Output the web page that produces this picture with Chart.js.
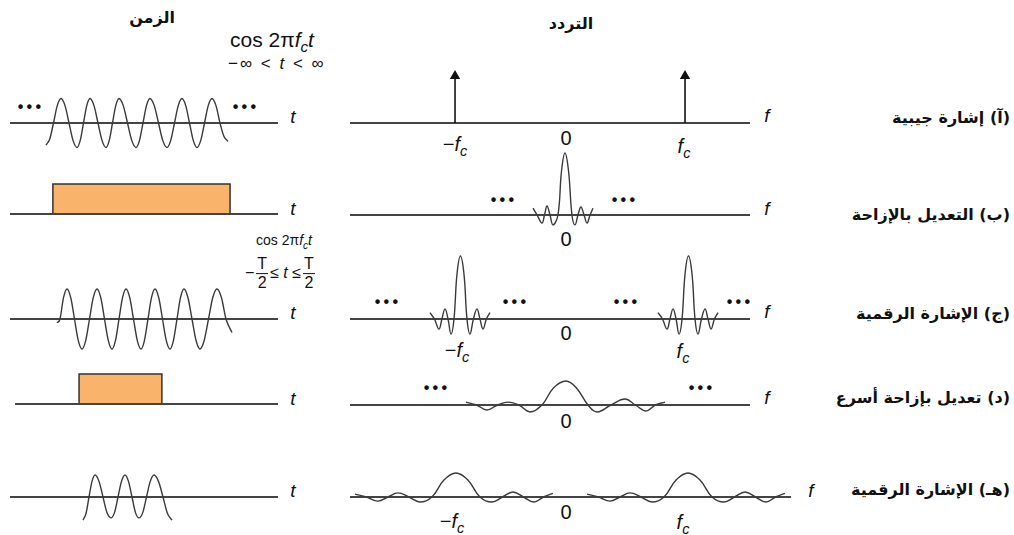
<!DOCTYPE html>
<html><head><meta charset="utf-8">
<script src="https://cdn.jsdelivr.net/npm/chart.js@4.4.1/dist/chart.umd.min.js"></script>
<style>
html,body{margin:0;padding:0;background:#fff;}
#wrap{position:relative;width:1014px;height:535px;overflow:hidden;font-family:"Liberation Sans",Arial,sans-serif;color:#111;}
#wrap canvas{position:absolute;}
.l{position:absolute;white-space:nowrap;line-height:1;}
.c{transform:translate(-50%,-50%);}
.ar{font-family:"DejaVu Sans",sans-serif;font-weight:bold;direction:rtl;font-size:16px;transform:translateY(-50%);right:4px;}
.ax{font-style:italic;font-size:19px;}
.num{font-size:20px;}
sub{font-size:72%;vertical-align:-0.35em;font-style:italic;}
.dots{font-size:16px;letter-spacing:3.2px;font-weight:bold;}
.frac{display:inline-block;vertical-align:middle;text-align:center;margin:0 2px;}
.frac span{display:block;line-height:1.15;}
.frac .top{border-bottom:1px solid #111;padding:0 1px;}
</style></head>
<body><div id="wrap">
<div class="l c ar" style="left:152px;top:18px;right:auto;transform:translate(-50%,-50%);font-size:16px">الزمن</div>
<div class="l c ar" style="left:571px;top:24px;right:auto;transform:translate(-50%,-50%);font-size:16px">التردد</div>

<div class="l" style="left:230px;top:29px;font-size:21px">cos 2π<i>f</i><sub>c</sub><i>t</i></div>
<div class="l" style="left:228px;top:55px;font-size:17px;letter-spacing:2px">−∞ &lt; <i>t</i> &lt; ∞</div>
<div class="l" style="left:256px;top:233px;font-size:14px">cos 2π<i>f</i><sub>c</sub><i>t</i></div>
<div class="l" style="left:245px;top:274px;font-size:16px;transform:translateY(-50%)">−<span class="frac"><span class="top">T</span><span>2</span></span>≤ <i>t</i> ≤<span class="frac"><span class="top">T</span><span>2</span></span></div>

<div class="l c dots" style="left:31px;top:107px">•••</div>
<div class="l c dots" style="left:246px;top:107px">•••</div>
<div class="l c dots" style="left:504px;top:200px">•••</div>
<div class="l c dots" style="left:625px;top:200px">•••</div>
<div class="l c dots" style="left:388px;top:302px">•••</div>
<div class="l c dots" style="left:516px;top:302px">•••</div>
<div class="l c dots" style="left:627px;top:302px">•••</div>
<div class="l c dots" style="left:740px;top:302px">•••</div>
<div class="l c dots" style="left:437px;top:388px">•••</div>
<div class="l c dots" style="left:702px;top:388px">•••</div>

<div class="l c ax" style="left:293px;top:116px">t</div>
<div class="l c ax" style="left:293px;top:208px">t</div>
<div class="l c ax" style="left:293px;top:312px">t</div>
<div class="l c ax" style="left:293px;top:398px">t</div>
<div class="l c ax" style="left:293px;top:490px">t</div>
<div class="l c ax" style="left:767px;top:115px">f</div>
<div class="l c ax" style="left:767px;top:208px">f</div>
<div class="l c ax" style="left:767px;top:311px">f</div>
<div class="l c ax" style="left:767px;top:397px">f</div>
<div class="l c ax" style="left:811px;top:490px">f</div>

<div class="l c num" style="left:455px;top:146px">−<i>f</i><sub>c</sub></div>
<div class="l c num" style="left:566px;top:138px">0</div>
<div class="l c num" style="left:684px;top:148px"><i>f</i><sub>c</sub></div>
<div class="l c num" style="left:566px;top:239px">0</div>
<div class="l c num" style="left:457px;top:352px">−<i>f</i><sub>c</sub></div>
<div class="l c num" style="left:566px;top:333px">0</div>
<div class="l c num" style="left:683px;top:353px"><i>f</i><sub>c</sub></div>
<div class="l c num" style="left:566px;top:421px">0</div>
<div class="l c num" style="left:452px;top:523px">−<i>f</i><sub>c</sub></div>
<div class="l c num" style="left:566px;top:512px">0</div>
<div class="l c num" style="left:683px;top:524px"><i>f</i><sub>c</sub></div>

<div class="l ar" style="top:118px">(آ) إشارة جيبية</div>
<div class="l ar" style="top:215px">(ب) التعديل بالإزاحة</div>
<div class="l ar" style="top:314px">(ج) الإشارة الرقمية</div>
<div class="l ar" style="top:398px">(د) تعديل بإزاحة أسرع</div>
<div class="l ar" style="top:490px">(هـ) الإشارة الرقمية</div>
</div>
<script>
// ---------- data (t in carrier periods, f in units of ~fc, amplitudes normalised) ----------
const timeAxis = [-4.5, 4.5];
const timeAxisD = [-4.33, 4.5];
const freqAxis = [-1.878, 1.6];
const freqAxisE = [-1.878, 1.957];

// (a) endless cosine (points read at crests, troughs, crossings and half-way)
const sineA_t = [-3.291,-3.165,-3.039,-2.913,-2.787,-2.652,-2.518,-2.384,-2.250,-2.141,-2.032,-1.922,-1.813,-1.679,-1.545,-1.410,-1.276,-1.167,-1.058,-0.948,-0.839,-0.696,-0.554,-0.411,-0.269,-0.151,-0.034,0.083,0.201,0.344,0.487,0.629,0.772,0.898,1.024,1.150,1.276,1.402,1.528,1.654,1.780,1.906,2.032,2.157,2.283,2.417,2.552,2.686,2.821];
const sineA_y = [-0.9,-0.65,0,0.71,1,0.71,0,-0.71,-1,-0.71,0,0.71,1,0.71,0,-0.71,-1,-0.71,0,0.71,1,0.71,0,-0.71,-1,-0.71,0,0.71,1,0.71,0,-0.71,-1,-0.71,0,0.71,1,0.71,0,-0.71,-1,-0.71,0,0.71,1,0.71,0,-0.55,-0.75];
const impulse_f = [-0.965, 1.035];
const impulse_h = [0, 1];

// (b) long rectangular pulse and its narrow sinc
const pulseB_t = [-3.06,-3.06,2.89,2.89];
const pulseB_y = [0,1,1,0];
const sincB_f = [-0.287,-0.252,-0.209,-0.187,-0.165,-0.139,-0.113,-0.070,-0.039,-0.009,0.022,0.052,0.078,0.104,0.130,0.157,0.183,0.209,0.235];
const sincB_y = [0.11,0,-0.13,0,0.145,0,-0.16,0,0.71,1,0.71,0,-0.16,0,0.13,0,-0.13,0,0.11];

// (c) long cosine burst and sincs at ±fc
const burstC_t = [-2.921,-2.821,-2.703,-2.586,-2.460,-2.334,-2.208,-2.082,-1.956,-1.830,-1.704,-1.578,-1.452,-1.326,-1.200,-1.075,-0.957,-0.839,-0.721,-0.604,-0.478,-0.353,-0.227,-0.101,0.016,0.134,0.251,0.369,0.495,0.621,0.747,0.873,0.990,1.108,1.225,1.343,1.477,1.612,1.746,1.880,2.023,2.166,2.308,2.451,2.602,2.754,2.955];
const burstC_y = [-0.13,0,0.71,1,0.71,0,-0.71,-1,-0.71,0,0.71,1,0.71,0,-0.71,-1,-0.71,0,0.71,1,0.71,0,-0.71,-1,-0.71,0,0.71,1,0.71,0,-0.71,-1,-0.71,0,0.71,1,0.71,0,-0.71,-1,-0.71,0,0.71,1,0.71,0,-0.45];
const sincC_centres = [-0.922, 1.061];
const sincC_df = [-0.261,-0.222,-0.183,-0.157,-0.130,-0.104,-0.078,-0.052,-0.026,0.004,0.035,0.061,0.087,0.117,0.148,0.174,0.200,0.230,0.261];
const sincC_y = [0.10,0,-0.16,0,0.16,0,-0.24,0,0.71,1,0.71,0,-0.24,0,0.16,0,-0.16,0,0.10];

// (d) short pulse and its wide sinc
const pulseD_t = [-2.18,-2.18,0.60,0.60];
const pulseD_y = [0,1,1,0];
const sincD_f = [-0.870,-0.778,-0.687,-0.596,-0.504,-0.409,-0.313,-0.209,-0.109,0.0,0.091,0.191,0.270,0.391,0.513,0.604,0.696,0.778,0.861];
const sincD_y = [0.12,0,-0.21,0,0.12,0,-0.29,0,0.71,1,0.71,0,-0.29,0,0.25,0,-0.25,0,0.12];

// (e) short cosine burst and wide sincs at ±fc
const burstE_t = [-2.048,-1.948,-1.847,-1.746,-1.645,-1.511,-1.377,-1.243,-1.108,-0.991,-0.873,-0.756,-0.638,-0.521,-0.403,-0.286,-0.168,-0.042,0.084,0.210,0.336,0.487,0.638,0.789,0.940];
const burstE_y = [-1.05,-0.75,0,0.71,1,0.71,0,-0.71,-0.95,-0.71,0,0.71,1,0.71,0,-0.71,-0.95,-0.71,0,0.71,1,0.71,0,-0.75,-1.05];
const sincE_centres = [-0.957, 1.061];
const sincE_df = [-0.878,-0.778,-0.678,-0.591,-0.504,-0.409,-0.313,-0.209,-0.104,0,0.104,0.209,0.313,0.404,0.496,0.587,0.678,0.761,0.843];
const sincE_y = [0.12,0,-0.17,0,0.17,0,-0.21,0,0.71,1,0.71,0,-0.21,0,0.21,0,-0.21,0,0.15];

// ---------- styling / layout ----------
const AXIS_C = '#444', WAVE_C = '#3a3a3a', PULSE_FILL = '#FAB36B';
const COL_T = {left:0, width:310, zero:144, pxu:29.78};
const COL_F = {left:330, width:490, zero:566, pxu:115};

const pts = (xs, ys) => xs.map((x, i) => ({x, y: ys[i]}));
const axisSet = r => ({data: pts(r, [0, 0]), borderColor: AXIS_C, borderWidth: 2, pointRadius: 0, tension: 0, clip: false, order: 5});
const wave = (xs, ys) => ({data: pts(xs, ys), borderColor: WAVE_C, borderWidth: 1.4, pointRadius: 0, cubicInterpolationMode: 'monotone', capBezierPoints: false, clip: false, order: 1});
const curve = (xs, ys) => ({data: pts(xs, ys), borderColor: WAVE_C, borderWidth: 1.4, pointRadius: 0, tension: 0.4, capBezierPoints: false, clip: false, order: 1});
const pulse = (xs, ys) => ({data: pts(xs, ys), borderColor: '#333', borderWidth: 1.5, backgroundColor: PULSE_FILL, fill: 'origin', pointRadius: 0, tension: 0, clip: false, order: 6});
const impulse = f => ({data: pts([f, f], impulse_h), borderColor: '#111', borderWidth: 1.6, pointRadius: [0, 6], pointStyle: 'triangle', pointBackgroundColor: '#111', pointBorderWidth: 0, tension: 0, clip: false, order: 1});

const wrap = document.getElementById('wrap');
function panel(g, base, pyu, up, down, datasets) {
  const c = document.createElement('canvas');
  c.width = g.width; c.height = up + down;
  c.style.left = g.left + 'px'; c.style.top = (base - up) + 'px';
  c.style.width = g.width + 'px'; c.style.height = (up + down) + 'px';
  wrap.appendChild(c);
  new Chart(c, {
    type: 'line',
    data: {datasets},
    options: {
      responsive: false, animation: false, events: [], devicePixelRatio: 1,
      layout: {padding: 0, autoPadding: false},
      plugins: {legend: {display: false}, tooltip: {enabled: false}},
      scales: {
        x: {type: 'linear', display: false, min: (g.left - g.zero) / g.pxu, max: (g.left + g.width - g.zero) / g.pxu},
        y: {type: 'linear', display: false, min: -down / pyu, max: up / pyu}
      }
    }
  });
}

// time column
panel(COL_T, 123, 24.5, 40, 40, [wave(sineA_t, sineA_y), axisSet(timeAxis)]);
panel(COL_T, 214, 30, 40, 10, [axisSet(timeAxis), pulse(pulseB_t, pulseB_y)]);
panel(COL_T, 319, 30, 40, 40, [wave(burstC_t, burstC_y), axisSet(timeAxis)]);
panel(COL_T, 404, 30, 40, 10, [axisSet(timeAxisD), pulse(pulseD_t, pulseD_y)]);
panel(COL_T, 497, 22, 35, 35, [wave(burstE_t, burstE_y), axisSet(timeAxis)]);

// frequency column
panel(COL_F, 123, 47, 60, 10, [impulse(impulse_f[0]), impulse(impulse_f[1]), axisSet(freqAxis)]);
panel(COL_F, 215, 62, 70, 20, [curve(sincB_f, sincB_y), axisSet(freqAxis)]);
panel(COL_F, 319, 63, 70, 25, [
  ...sincC_centres.map(c0 => curve(sincC_df.map(d => c0 + d), sincC_y)), axisSet(freqAxis)]);
panel(COL_F, 405, 24, 35, 15, [curve(sincD_f, sincD_y), axisSet(freqAxis)]);
panel(COL_F, 497, 24, 35, 15, [
  ...sincE_centres.map(c0 => curve(sincE_df.map(d => c0 + d), sincE_y)), axisSet(freqAxisE)]);
</script>
</body></html>
